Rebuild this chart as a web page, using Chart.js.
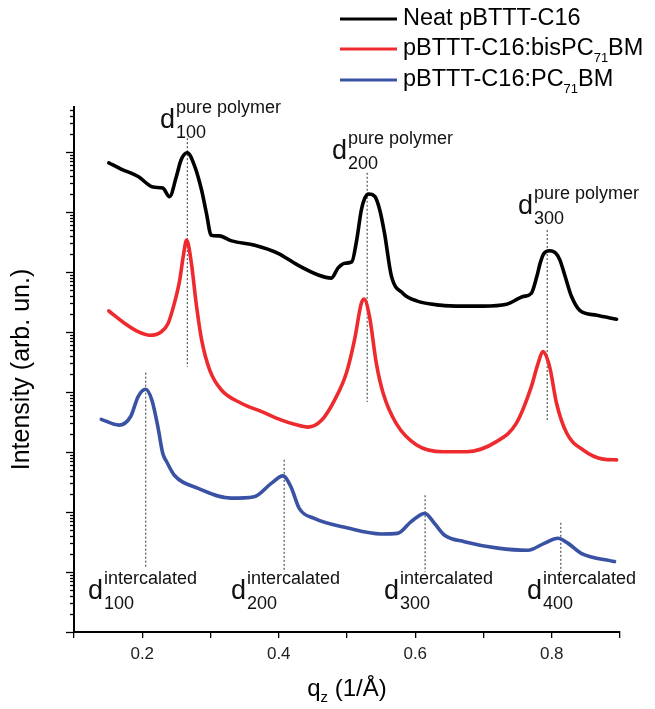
<!DOCTYPE html>
<html><head><meta charset="utf-8">
<script src="https://cdn.jsdelivr.net/npm/chart.js@4.4.0/dist/chart.umd.min.js"></script>
<style>html,body{margin:0;padding:0;background:#fff}#wrap{width:655px;height:709px}</style>
</head><body><div id="wrap"><canvas id="c" width="655" height="709"></canvas></div>
<script>
// ---- data ----
const neatQ = [0.151,0.169,0.194,0.216,0.230,0.240,0.250,0.257,0.266,0.277,0.287,0.294,0.301,0.313,0.331,0.365,0.399,0.428,0.458,0.477,0.487,0.497,0.507,0.514,0.521,0.526,0.532,0.541,0.548,0.555,0.565,0.582,0.602,0.636,0.670,0.699,0.734,0.758,0.770,0.778,0.783,0.788,0.797,0.806,0.812,0.819,0.829,0.841,0.866,0.895];
const neatI = [6.6e7,5.2e7,3.9e7,2.6e7,2.5e7,1.8e7,3.9e7,7.4e7,9.7e7,5.7e7,2.3e7,9.6e6,4.1e6,4.0e6,3.3e6,2.8e6,2.05e6,1.3e6,8.9e5,7.9e5,1.17e6,1.4e6,1.47e6,3.3e6,1.08e7,1.7e7,2.0e7,1.8e7,1.08e7,4.4e6,8.6e5,4.4e5,3.3e5,2.8e5,2.7e5,2.7e5,2.9e5,3.9e5,4.4e5,8.3e5,1.4e6,2.0e6,2.26e6,2.05e6,1.58e6,8.9e5,3.9e5,2.3e5,1.9e5,1.63e5];

const bisQ = [0.151,0.174,0.194,0.211,0.228,0.238,0.247,0.255,0.260,0.265,0.272,0.279,0.287,0.299,0.316,0.345,0.375,0.404,0.423,0.443,0.463,0.482,0.499,0.511,0.521,0.525,0.533,0.543,0.553,0.572,0.602,0.641,0.675,0.719,0.748,0.770,0.780,0.787,0.797,0.807,0.822,0.846,0.875,0.895];
const bisI = [2.24e5,1.40e5,1.01e5,8.8e4,1.01e5,1.40e5,3.0e5,7.4e5,1.8e6,3.4e6,1.4e6,3.0e5,7.4e4,2.3e4,1.08e4,6.5e3,4.7e3,3.4e3,2.9e3,2.6e3,3.4e3,7.4e3,2.05e4,7.4e4,3.0e5,3.55e5,1.8e5,3.0e4,9.5e3,3.0e3,1.31e3,1.01e3,1.01e3,1.49e3,3.0e3,1.22e4,3.0e4,4.7e4,2.6e4,6.5e3,2.05e3,1.08e3,7.6e2,7.4e2];

const pcQ = [0.140,0.166,0.183,0.194,0.205,0.214,0.223,0.230,0.236,0.247,0.281,0.330,0.364,0.389,0.406,0.418,0.430,0.452,0.501,0.550,0.574,0.594,0.614,0.628,0.643,0.672,0.721,0.765,0.789,0.809,0.824,0.843,0.892];
const pcI = [3.5e3,2.8e3,3.9e3,8.4e3,1.11e4,7.4e3,2.6e3,9.5e2,6.8e2,4.1e2,2.5e2,1.7e2,1.8e2,3.0e2,4.0e2,2.6e2,1.15e2,78,54,43,44,69,95,65,41,32,25,23,30,36.5,30,20.5,14.9];

// dotted reference lines (q position, top and bottom intensity)
const dotQ   = [0.266, 0.5295, 0.7933, 0.2051, 0.4079, 0.6144, 0.8133];
const dotTop = [1.7e8, 4.5e7, 5.0e6, 2.1e4, 7.4e2, 1.9e2, 66];
const dotBot = [2.6e4, 6.8e3, 3.2e3, 12, 10, 10, 10];

const seriesNames = ['Neat pBTTT-C16', 'pBTTT-C16:bisPC|71|BM', 'pBTTT-C16:PC|71|BM'];
const xTickValues = [0.2, 0.4, 0.6, 0.8];
const xTickLabels = ['0.2', '0.4', '0.6', '0.8'];
const yMin = 1, yMax = 5.62e8;

const pureLabels = [{sub:'100'}, {sub:'200'}, {sub:'300'}];
const interLabels = [{sub:'100'}, {sub:'200'}, {sub:'300'}, {sub:'400'}];

// ---- build ----
const FONT = '"Liberation Sans", Arial, sans-serif';
const colors = ['#000000', '#ee2a2e', '#3a52a3'];
const zip = (q, v) => q.map((x, i) => ({x, y: v[i]}));

const datasets = [
  {data: zip(neatQ, neatI), borderColor: colors[0]},
  {data: zip(bisQ, bisI), borderColor: colors[1]},
  {data: zip(pcQ, pcI), borderColor: colors[2]},
].map(d => Object.assign(d, {borderWidth: 3.6, pointRadius: 0, cubicInterpolationMode: 'monotone', order: 0, borderJoinStyle: 'round', borderCapStyle: 'round'}));

dotQ.forEach((q, i) => {
  datasets.push({data: [{x: q, y: dotTop[i]}, {x: q, y: dotBot[i]}], borderColor: '#333', borderWidth: 1, borderDash: [2, 2], pointRadius: 0, order: 10});
});

function dLabel(ctx, x, B, sup, sub) {
  ctx.textBaseline = 'alphabetic';
  ctx.textAlign = 'left';
  ctx.font = '27px ' + FONT;
  ctx.fillText('d', x, B);
  const w = ctx.measureText('d').width;
  ctx.font = '18px ' + FONT;
  ctx.fillText(sup, x + w + 1, B - 15);
  ctx.fillText(sub, x + w + 1, B + 10);
}

function subText(ctx, txt, x, y, big, small, drop) {
  const parts = txt.split('|');
  let cx = x;
  parts.forEach((p, i) => {
    if (i % 2 === 1) {
      ctx.font = small + 'px ' + FONT;
      ctx.fillText(p, cx, y + drop);
    } else {
      ctx.font = big + 'px ' + FONT;
      ctx.fillText(p, cx, y);
    }
    cx += ctx.measureText(p).width;
  });
}

const overlay = {
  id: 'overlay',
  afterDraw(chart) {
    const {ctx, chartArea, scales: {x, y}} = chart;
    ctx.save();
    // log minor/major ticks on y axis
    ctx.strokeStyle = '#000';
    ctx.lineWidth = 1.3;
    for (let e = 0; e <= 9; e++) {
      for (let k = 1; k <= 9; k++) {
        const v = k * Math.pow(10, e);
        if (v > yMax) break;
        const py = Math.round(y.getPixelForValue(v)) + 0.5;
        const len = k === 1 ? 8 : 4;
        ctx.beginPath();
        ctx.moveTo(chartArea.left - len, py);
        ctx.lineTo(chartArea.left, py);
        ctx.stroke();
      }
    }
    ctx.fillStyle = '#111';
    // peak labels
    const pureX = [160, 332, 518], pureB = [128, 159, 214];
    pureLabels.forEach((l, i) => dLabel(ctx, pureX[i], pureB[i], 'pure polymer', l.sub));
    const interX = [88, 231, 384, 527];
    interLabels.forEach((l, i) => dLabel(ctx, interX[i], 599, 'intercalated', l.sub));

    // legend
    const rowY = [19, 49, 80];
    seriesNames.forEach((n, i) => {
      ctx.strokeStyle = colors[i];
      ctx.lineWidth = 3.2;
      ctx.beginPath();
      ctx.moveTo(340, rowY[i]);
      ctx.lineTo(397, rowY[i]);
      ctx.stroke();
      ctx.fillStyle = '#000';
      ctx.textBaseline = 'middle';
      ctx.textAlign = 'left';
      subText(ctx, n, 403, rowY[i], 23.5, 13, 9);
    });

    // x title
    ctx.fillStyle = '#000';
    ctx.textBaseline = 'alphabetic';
    ctx.font = '24px ' + FONT;
    const wq = ctx.measureText('q').width;
    const wr = ctx.measureText(' (1/Å)').width;
    ctx.font = '15px ' + FONT;
    const wz = ctx.measureText('z').width;
    const cxm = (chartArea.left + chartArea.right) / 2;
    let sx = cxm - (wq + wz + wr) / 2;
    subText(ctx, 'q|z| (1/Å)', sx, 696, 24, 15, 6);

    // y title
    ctx.save();
    ctx.translate(22, (chartArea.top + chartArea.bottom) / 2);
    ctx.rotate(-Math.PI / 2);
    ctx.textAlign = 'center';
    ctx.textBaseline = 'middle';
    ctx.font = '25px ' + FONT;
    ctx.fillText('Intensity (arb. un.)', 0, 0);
    ctx.restore();
    ctx.restore();
  }
};

new Chart(document.getElementById('c'), {
  type: 'line',
  data: {datasets},
  options: {
    responsive: false,
    animation: false,
    devicePixelRatio: 1,
    layout: {padding: {left: 0, top: 107, right: 35, bottom: 0}},
    plugins: {legend: {display: false}, tooltip: {enabled: false}},
    scales: {
      x: {
        type: 'linear', min: 0.1, max: 0.9,
        ticks: {
          stepSize: 0.1, autoSkip: false, padding: 6, color: '#222',
          font: {family: FONT, size: 17},
          callback: (v) => {
            const i = xTickValues.findIndex(t => Math.abs(t - v) < 1e-6);
            return i >= 0 ? xTickLabels[i] : '';
          }
        },
        grid: {drawOnChartArea: false, drawTicks: true, tickLength: 6, color: '#000', lineWidth: 1.3},
        border: {display: true, color: '#000', width: 2},
        afterFit: (s) => { s.height = 77; }
      },
      y: {
        type: 'logarithmic', min: yMin, max: yMax,
        ticks: {display: false},
        grid: {display: false},
        border: {display: true, color: '#000', width: 2},
        afterFit: (s) => { s.width = 74; }
      }
    }
  },
  plugins: [overlay]
});
</script>
</body></html>
